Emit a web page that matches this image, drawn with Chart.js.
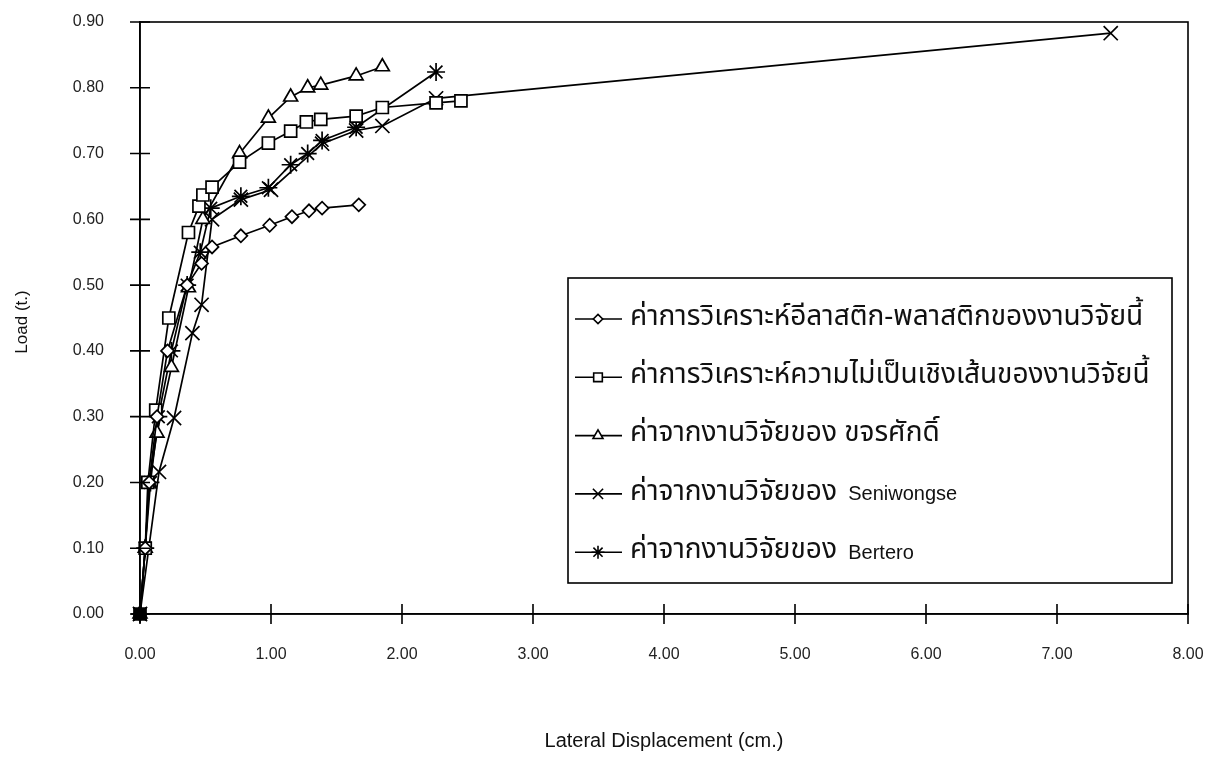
<!DOCTYPE html>
<html><head><meta charset="utf-8">
<script src="https://cdn.jsdelivr.net/npm/chart.js@4/dist/chart.umd.min.js"></script>
<style>html,body{margin:0;padding:0;background:#fff}</style>
</head><body>
<canvas id="c" width="1232" height="772"></canvas>
<script>
// ---- tick labels ----
const xTickValues = [0,1,2,3,4,5,6,7,8];
const yTickValues = [0,0.1,0.2,0.3,0.4,0.5,0.6,0.7,0.8,0.9];
const xTitle = "Lateral Displacement (cm.)";
const yTitle = "Load (t.)";

// ---- series names ----
const seriesNames = [
  "ค่าการวิเคราะห์อีลาสติก-พลาสติกของงานวิจัยนี้",
  "ค่าการวิเคราะห์ความไม่เป็นเชิงเส้นของงานวิจัยนี้",
  "ค่าจากงานวิจัยของ ขจรศักดิ์",
  "ค่าจากงานวิจัยของ Seniwongse",
  "ค่าจากงานวิจัยของ Bertero"
];

// ---- series values (x = displacement cm, y = load t) ----
const elasticX = [0, 0.04, 0.07, 0.13, 0.21, 0.36, 0.47, 0.55, 0.77, 0.99, 1.16, 1.29, 1.39, 1.67];
const elasticY = [0, 0.10, 0.20, 0.30, 0.40, 0.50, 0.533, 0.558, 0.575, 0.591, 0.604, 0.613, 0.617, 0.622];

const nonlinX = [0, 0.04, 0.06, 0.12, 0.22, 0.37, 0.45, 0.48, 0.55, 0.76, 0.98, 1.15, 1.27, 1.38, 1.65, 1.85, 2.26, 2.45];
const nonlinY = [0, 0.10, 0.20, 0.31, 0.45, 0.58, 0.62, 0.637, 0.649, 0.687, 0.716, 0.734, 0.748, 0.752, 0.757, 0.77, 0.777, 0.78];

const khajornX = [0, 0.04, 0.07, 0.13, 0.24, 0.37, 0.48, 0.76, 0.98, 1.15, 1.28, 1.38, 1.65, 1.85];
const khajornY = [0, 0.10, 0.20, 0.275, 0.375, 0.496, 0.60, 0.70, 0.754, 0.786, 0.80, 0.804, 0.818, 0.832];

const seniX = [0, 0.145, 0.26, 0.40, 0.47, 0.55, 0.77, 1.0, 1.39, 1.65, 1.85, 2.26, 7.41];
const seniY = [0, 0.216, 0.298, 0.427, 0.47, 0.60, 0.63, 0.645, 0.715, 0.735, 0.742, 0.784, 0.883];

const berteroX = [0, 0.04, 0.08, 0.14, 0.24, 0.36, 0.46, 0.54, 0.77, 0.98, 1.15, 1.28, 1.39, 1.65, 2.26];
const berteroY = [0, 0.10, 0.20, 0.30, 0.40, 0.50, 0.55, 0.617, 0.635, 0.648, 0.683, 0.70, 0.72, 0.74, 0.824];

const seriesX = [elasticX, nonlinX, khajornX, seniX, berteroX];
const seriesY = [elasticY, nonlinY, khajornY, seniY, berteroY];
const styles = [
  {pointStyle:'rectRot', radius:6.5},
  {pointStyle:'rect', radius:8.5},
  {pointStyle:'triangle', radius:8},
  {pointStyle:'crossRot', radius:10},
  {pointStyle:'star', radius:9}
];

const datasets = seriesNames.map((name, i) => ({
  label: name,
  data: seriesX[i].map((x, j) => ({x: x, y: seriesY[i][j]})),
  showLine: true,
  clip: false,
  borderColor: '#000',
  borderWidth: 1.7,
  pointStyle: styles[i].pointStyle,
  pointRadius: styles[i].radius,
  pointBorderColor: '#000',
  pointBorderWidth: 1.7,
  pointBackgroundColor: (ctx) => (ctx.dataIndex === 0 ? '#000' : '#fff'),
  tension: 0
}));

const AREA = {left: 140, right: 1188, top: 22, bottom: 614};
const THAI = '"Noto Sans Thai", "Noto Sans Thai Looped", Loma, Garuda, "Tlwg Typo", Waree, "DejaVu Sans", sans-serif';
const LAT = '"Liberation Sans", Arial, sans-serif';

const deco = {
  id: 'deco',
  afterDraw(chart) {
    const ctx = chart.ctx;
    const a = chart.chartArea;
    const xs = chart.scales.x, ys = chart.scales.y;
    ctx.save();
    ctx.strokeStyle = '#000';
    ctx.lineWidth = 1.6;
    ctx.strokeRect(a.left, a.top, a.right - a.left, a.bottom - a.top);
    // cross ticks
    ctx.beginPath();
    yTickValues.forEach(v => {
      const p = ys.getPixelForValue(v);
      ctx.moveTo(a.left - 10, p); ctx.lineTo(a.left + 10, p);
    });
    xTickValues.forEach(v => {
      const p = xs.getPixelForValue(v);
      ctx.moveTo(p, a.bottom - 10); ctx.lineTo(p, a.bottom + 10);
    });
    ctx.stroke();
    // axis titles
    ctx.fillStyle = '#111';
    ctx.font = '20px ' + LAT;
    ctx.textAlign = 'center';
    ctx.textBaseline = 'middle';
    ctx.fillText(xTitle, (a.left + a.right) / 2, 741);
    ctx.save();
    ctx.translate(22, 322);
    ctx.rotate(-Math.PI / 2);
    ctx.font = '17px ' + LAT;
    ctx.fillText(yTitle, 0, 0);
    ctx.restore();
    // legend
    const lx = 568, ly = 278, lw = 604, lh = 305;
    ctx.fillStyle = '#fff';
    ctx.fillRect(lx, ly, lw, lh);
    ctx.strokeRect(lx, ly, lw, lh);
    chart.data.datasets.forEach((ds, i) => {
      const y = 319 + i * 58.3;
      ctx.beginPath();
      ctx.moveTo(575, y); ctx.lineTo(622, y);
      ctx.lineWidth = 1.6;
      ctx.strokeStyle = '#000';
      ctx.stroke();
      ctx.fillStyle = '#fff';
      Chart.helpers.drawPoint(ctx, {pointStyle: styles[i].pointStyle, radius: styles[i].radius * 0.72, borderWidth: 1.5, rotation: 0}, 598, y);
      ctx.fillStyle = '#111';
      ctx.textAlign = 'left';
      ctx.textBaseline = 'middle';
      const m = ds.label.match(/^(.*?)([A-Za-z].*)?$/);
      const thaiPart = m[1];
      const latPart = m[2] || '';
      ctx.font = '28px ' + THAI;
      ctx.fillText(thaiPart, 630, y);
      if (latPart) {
        const w = ctx.measureText(thaiPart).width;
        ctx.font = '20px ' + LAT;
        ctx.fillText(latPart, 634 + w, y + 1);
      }
    });
    ctx.restore();
  }
};

new Chart(document.getElementById('c'), {
  type: 'scatter',
  data: {datasets},
  options: {
    responsive: false,
    devicePixelRatio: 1,
    animation: false,
    layout: {padding: {left: 0, right: 1232 - AREA.right, top: AREA.top, bottom: 0}},
    plugins: {legend: {display: false}, tooltip: {enabled: false}},
    scales: {
      x: {
        type: 'linear', min: 0, max: 8,
        afterFit: (s) => { s.height = 772 - AREA.bottom; },
        afterBuildTicks: (s) => { s.ticks = xTickValues.map(v => ({value: v})); },
        grid: {display: false, drawTicks: true, tickLength: 31},
        border: {display: true, color: '#000', width: 1.6},
        ticks: {padding: 0, color: '#222', font: {family: LAT, size: 16}, callback: v => v.toFixed(2), maxRotation: 0}
      },
      y: {
        type: 'linear', min: 0, max: 0.9,
        afterFit: (s) => { s.width = AREA.left; },
        afterBuildTicks: (s) => { s.ticks = yTickValues.map(v => ({value: v})); },
        grid: {display: false, drawTicks: true, tickLength: 36},
        border: {display: true, color: '#000', width: 1.6},
        ticks: {padding: 0, color: '#222', font: {family: LAT, size: 16}, callback: v => v.toFixed(2)}
      }
    }
  },
  plugins: [deco]
});
</script>
</body></html>
